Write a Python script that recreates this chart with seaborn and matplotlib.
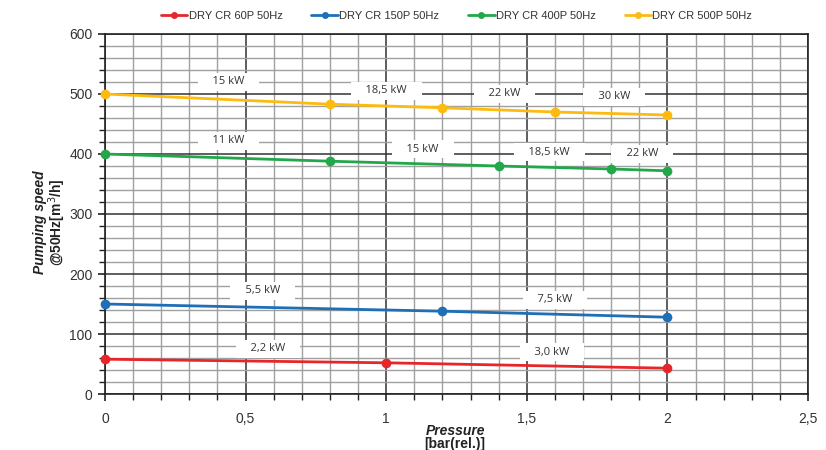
import numpy as np
import pandas as pd
import matplotlib
matplotlib.use("Agg")
import matplotlib.pyplot as plt
from matplotlib.ticker import MultipleLocator, FuncFormatter
import seaborn as sns

# ---- data ----
series_names = ["DRY CR 60P 50Hz", "DRY CR 150P 50Hz", "DRY CR 400P 50Hz", "DRY CR 500P 50Hz"]
p60_x = [0, 1, 2]
p60_y = [58, 52, 43]
p150_x = [0, 1.2, 2]
p150_y = [150, 138, 128]
p400_x = [0, 0.8, 1.4, 1.8, 2]
p400_y = [400, 388, 380, 375, 372]
p500_x = [0, 0.8, 1.2, 1.6, 2]
p500_y = [500, 483, 477, 470, 465]
colors = ["#e8262a", "#1f6fb8", "#22a84a", "#fdbb10"]

power_labels = ["15 kW", "18,5 kW", "22 kW", "30 kW",
                "11 kW", "15 kW", "18,5 kW", "22 kW",
                "5,5 kW", "7,5 kW",
                "2,2 kW", "3,0 kW"]
power_x = [0.44, 1.00, 1.42, 1.81,
           0.44, 1.13, 1.58, 1.91,
           0.56, 1.60,
           0.58, 1.59]
power_y = [520, 505, 500, 495,
           422, 408, 403, 400,
           172, 157,
           75, 70]

xs = [p60_x, p150_x, p400_x, p500_x]
ys = [p60_y, p150_y, p400_y, p500_y]
df = pd.concat([pd.DataFrame({"x": x, "y": y, "s": n}) for x, y, n in zip(xs, ys, series_names)])

sns.set_style("white")
plt.rcParams['font.family'] = ['Liberation Sans', 'DejaVu Sans']

fig = plt.figure(figsize=(8.26, 4.5), dpi=100)
ax = fig.add_axes([105/826, 1 - 394/450, (808-105)/826, (394-34)/450])

sns.lineplot(data=df, x="x", y="y", hue="s", hue_order=series_names,
             palette=colors, marker="o", markersize=7, markeredgewidth=0,
             linewidth=2, ax=ax, zorder=5, legend=True)
for ln in ax.get_lines():
    ln.set_clip_on(False)

ax.set_xlim(0, 2.5)
ax.set_ylim(0, 600)
ax.xaxis.set_major_locator(MultipleLocator(0.5))
ax.xaxis.set_minor_locator(MultipleLocator(0.1))
ax.yaxis.set_major_locator(MultipleLocator(100))
ax.yaxis.set_minor_locator(MultipleLocator(20))
ax.xaxis.set_major_formatter(FuncFormatter(lambda v, p: ("%g" % v).replace(".", ",")))

ax.grid(which="minor", color="#a0a0a0", linewidth=1.0, zorder=0)
ax.grid(which="major", color="#333333", linewidth=1.1, zorder=1)
ax.set_axisbelow(True)
for sp in ax.spines.values():
    sp.set_color("#222222")
    sp.set_linewidth(1.2)

ax.tick_params(which="both", direction="out", color="#222222", labelsize=10, labelcolor="#333333")
ax.tick_params(which="major", length=5, width=1.2)
ax.tick_params(which="minor", length=4, width=1)
ax.tick_params(axis="x", which="both", bottom=True, pad=8)
ax.tick_params(axis="y", which="both", left=True, pad=4)

ax.set_xlabel("")
ax.set_ylabel("")
fig.text(40/826, 1 - 222/450, "Pumping speed", rotation=90, ha="center", va="center",
         fontsize=10, fontweight="bold", fontstyle="italic", color="#222222")
fig.text(57/826, 1 - 222/450, "@50Hz[m$^3$/h]", rotation=90, ha="center", va="center",
         fontsize=10, fontweight="bold", color="#222222")
fig.text(455/826, 1 - 431/450, "Pressure", ha="center", va="center",
         fontsize=10, fontweight="bold", fontstyle="italic", color="#222222")
fig.text(455/826, 1 - 444/450, "[bar(rel.)]", ha="center", va="center",
         fontsize=10, fontweight="bold", color="#222222")

for t, x, y in zip(power_labels, power_x, power_y):
    ax.text(x, y, "    " + t + "    ", ha="center", va="center", fontsize=8,
            family=["Open Sans", "DejaVu Sans"], color="#333333", zorder=4,
            bbox=dict(boxstyle="square,pad=0.3", fc="white", ec="none"))

leg = ax.legend(loc="lower center", bbox_to_anchor=(0.5, 1.0), ncol=4, frameon=False,
                fontsize=8, handlelength=2.4, handletextpad=0.1, columnspacing=2.6,
                borderaxespad=0.8)
for h in leg.legend_handles:
    h.set_markersize(5)
for t in leg.get_texts():
    t.set_color("#333333")

fig.savefig("out.png", dpi=100)
